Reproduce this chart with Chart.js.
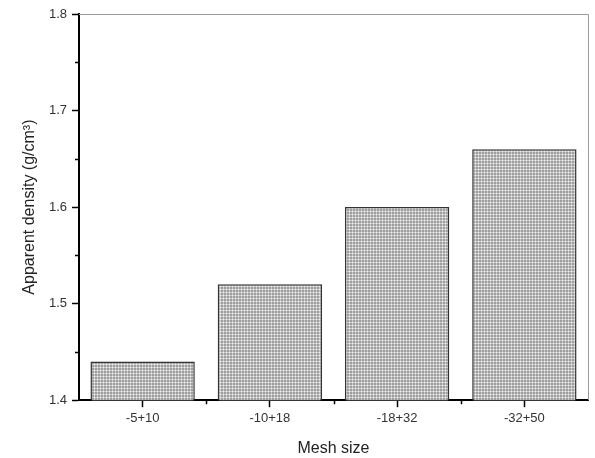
<!DOCTYPE html>
<html>
<head>
<meta charset="utf-8">
<script src="https://cdn.jsdelivr.net/npm/chart.js@4.4.0/dist/chart.umd.min.js"></script>
<style>
html,body{margin:0;padding:0;background:#fff;}
#wrap{width:595px;height:458px;position:relative;}
</style>
</head>
<body>
<div id="wrap"><canvas id="c" width="595" height="458"></canvas></div>
<script>
const categories = ['-5+10', '-10+18', '-18+32', '-32+50'];
const densityValues = [1.44, 1.52, 1.60, 1.66];
const yMin = 1.4, yMax = 1.8, yMajorStep = 0.1, yMinorStep = 0.05;
const yTitle = 'Apparent density (g/cm\u00B3)';
const xTitle = 'Mesh size';

function makePattern(){
  const p = document.createElement('canvas');
  p.width = 3; p.height = 3;
  const g = p.getContext('2d');
  g.fillStyle = '#9e9e9e'; g.fillRect(0,0,3,3);
  g.fillStyle = '#efefef'; g.fillRect(1,1,1,1);
  g.fillStyle = '#cbcbcb'; g.fillRect(0,1,1,1); g.fillRect(1,0,1,1); g.fillRect(2,1,1,1); g.fillRect(1,2,1,1);
  return document.getElementById('c').getContext('2d').createPattern(p,'repeat');
}

const framePlugin = {
  id: 'frame',
  afterDraw(chart){
    const ctx = chart.ctx, a = chart.chartArea;
    const ys = chart.scales.y;
    ctx.save();
    ctx.strokeStyle = '#9a9a9a'; ctx.lineWidth = 1;
    ctx.beginPath();
    ctx.moveTo(a.left, a.top + 0.5); ctx.lineTo(a.right + 0.5, a.top + 0.5);
    ctx.lineTo(a.right + 0.5, a.bottom);
    ctx.stroke();
    ctx.strokeStyle = '#000'; ctx.lineWidth = 1.5;
    ctx.beginPath();
    for (let v = yMin + yMinorStep; v < yMax; v += yMajorStep){
      const y = Math.round(ys.getPixelForValue(v)) + 0.5;
      ctx.moveTo(a.left - 4, y); ctx.lineTo(a.left, y);
    }
    const n = categories.length;
    for (let i = 1; i < n; i++){
      const x = Math.round(a.left + i * (a.right - a.left) / n) + 0.5;
      ctx.moveTo(x, a.bottom); ctx.lineTo(x, a.bottom + 4);
    }
    ctx.stroke();
    ctx.restore();
  }
};

new Chart(document.getElementById('c'), {
  type: 'bar',
  data: {
    labels: categories,
    datasets: [{
      data: densityValues,
      backgroundColor: makePattern(),
      borderColor: '#333',
      borderWidth: 1.5,
      borderSkipped: false,
      barPercentage: 0.82,
      categoryPercentage: 1.0
    }]
  },
  options: {
    responsive: false,
    animation: false,
    devicePixelRatio: 1,
    layout: { padding: { top: 14, right: 7, left: 0, bottom: 0 } },
    plugins: { legend: { display: false }, tooltip: { enabled: false } },
    scales: {
      x: {
        offset: true,
        grid: { display: true, drawOnChartArea: false, offset: false, tickLength: 7, tickColor: '#000', tickWidth: 1.5 },
        border: { display: true, color: '#000', width: 2 },
        ticks: { color: '#333', font: { family: 'Liberation Sans', size: 13 }, padding: 3 },
        title: { display: true, text: xTitle, color: '#222', font: { family: 'Liberation Sans', size: 16 }, padding: { top: 10, bottom: 0 } }
      },
      y: {
        min: yMin, max: yMax,
        afterFit(s){ s.width = 79; },
        grid: { display: true, drawOnChartArea: false, tickLength: 7, tickColor: '#000', tickWidth: 1.5 },
        border: { display: true, color: '#000', width: 2 },
        ticks: { stepSize: yMajorStep, color: '#333', font: { family: 'Liberation Sans', size: 13 }, padding: 5,
                 callback: v => v.toFixed(1) },
        title: { display: true, text: yTitle, color: '#222', font: { family: 'Liberation Sans', size: 16 }, padding: { top: 20, bottom: 0 } }
      }
    }
  },
  plugins: [framePlugin]
});
</script>
</body>
</html>
